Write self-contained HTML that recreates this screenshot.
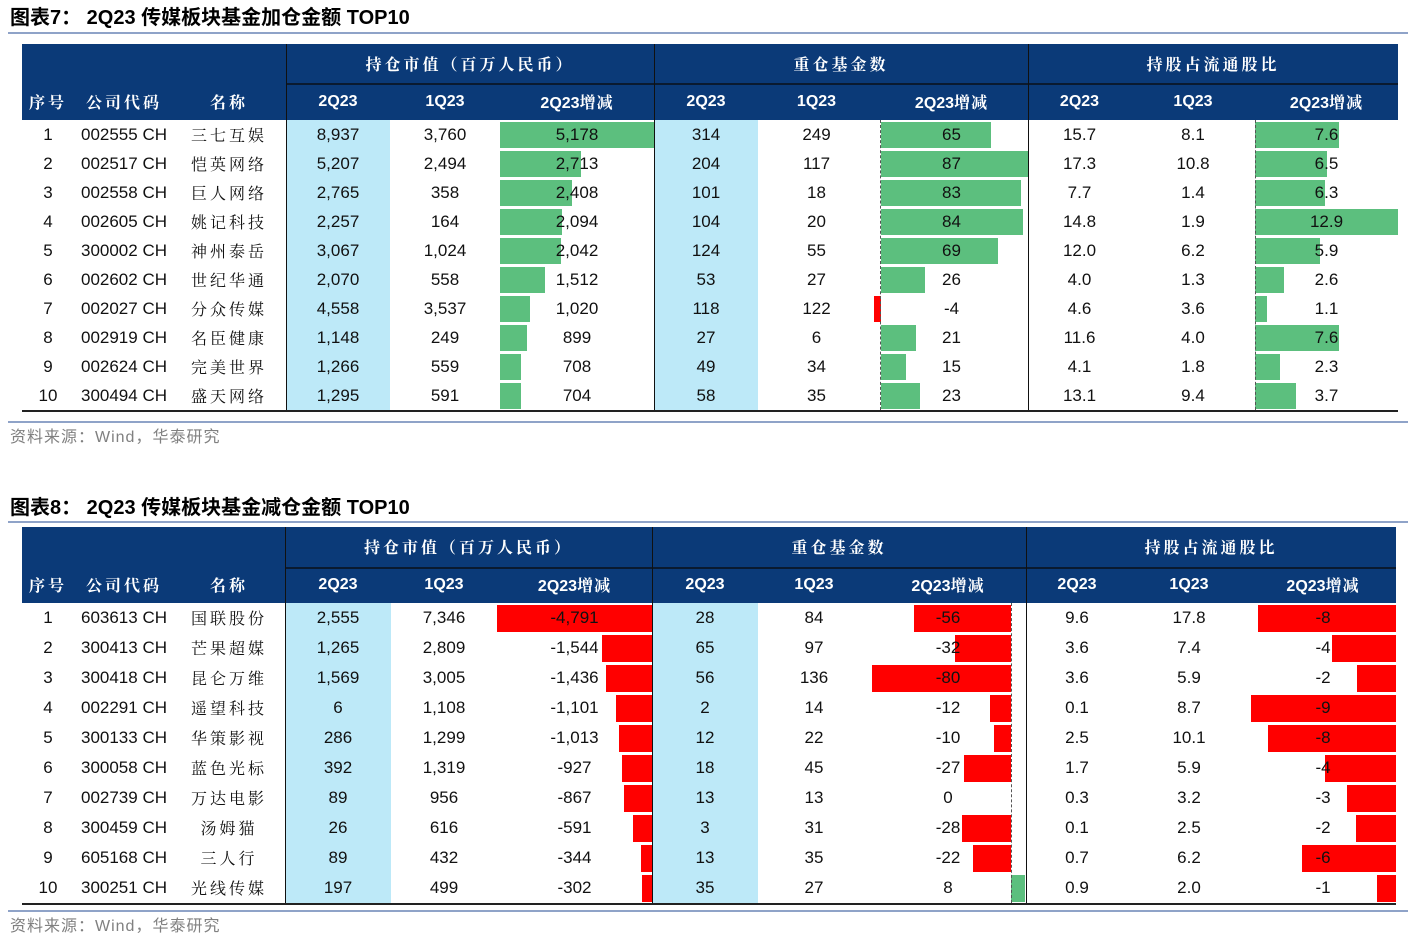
<!DOCTYPE html>
<html><head><meta charset="utf-8">
<style>
body{margin:0;width:1408px;height:941px;background:#fff;position:relative;overflow:hidden;font-family:"Liberation Sans","Noto Sans CJK SC",sans-serif;}
.a{position:absolute;}
.t{position:absolute;white-space:nowrap;transform:translateX(-50%);text-align:center;}
.title{font-size:20px;font-weight:bold;color:#000;left:10px;line-height:24px;}
.src{font-size:16px;color:#808080;left:10px;line-height:20px;letter-spacing:1px;}
.hl{position:absolute;background:#8fa3c8;height:2px;left:8px;width:1400px;}
.hdr{background:#0b3a78;}
.ht{color:#fff;font-size:16px;font-weight:bold;}
.cell{font-size:17px;color:#111;}
.cn{font-family:"Noto Serif CJK SC","Noto Sans CJK SC",serif;letter-spacing:3px;}
</style></head><body>
<div id="root"></div>
<script>
// ---------- Table 7 data ----------
const t1Codes=["002555 CH","002517 CH","002558 CH","002605 CH","300002 CH","002602 CH","002027 CH","002919 CH","002624 CH","300494 CH"];
const t1Names=["三七互娱","恺英网络","巨人网络","姚记科技","神州泰岳","世纪华通","分众传媒","名臣健康","完美世界","盛天网络"];
const t1Mv2=[8937,5207,2765,2257,3067,2070,4558,1148,1266,1295];
const t1Mv1=[3760,2494,358,164,1024,558,3537,249,559,591];
const t1MvD=[5178,2713,2408,2094,2042,1512,1020,899,708,704];
const t1F2=[314,204,101,104,124,53,118,27,49,58];
const t1F1=[249,117,18,20,55,27,122,6,34,35];
const t1FD=[65,87,83,84,69,26,-4,21,15,23];
const t1S2=[15.7,17.3,7.7,14.8,12.0,4.0,4.6,11.6,4.1,13.1];
const t1S1=[8.1,10.8,1.4,1.9,6.2,1.3,3.6,4.0,1.8,9.4];
const t1SD=[7.6,6.5,6.3,12.9,5.9,2.6,1.1,7.6,2.3,3.7];
// ---------- Table 8 data ----------
const t2Codes=["603613 CH","300413 CH","300418 CH","002291 CH","300133 CH","300058 CH","002739 CH","300459 CH","605168 CH","300251 CH"];
const t2Names=["国联股份","芒果超媒","昆仑万维","遥望科技","华策影视","蓝色光标","万达电影","汤姆猫","三人行","光线传媒"];
const t2Mv2=[2555,1265,1569,6,286,392,89,26,89,197];
const t2Mv1=[7346,2809,3005,1108,1299,1319,956,616,432,499];
const t2MvD=[-4791,-1544,-1436,-1101,-1013,-927,-867,-591,-344,-302];
const t2F2=[28,65,56,2,12,18,13,3,13,35];
const t2F1=[84,97,136,14,22,45,13,31,35,27];
const t2FD=[-56,-32,-80,-12,-10,-27,0,-28,-22,8];
const t2S2=[9.6,3.6,3.6,0.1,2.5,1.7,0.3,0.1,0.7,0.9];
const t2S1=[17.8,7.4,5.9,8.7,10.1,5.9,3.2,2.5,6.2,2.0];
const t2SD=[-8.2,-3.8,-2.3,-8.6,-7.6,-4.2,-2.9,-2.4,-5.6,-1.1];

const root=document.getElementById('root');
function div(cls,style,txt){const d=document.createElement('div');d.className=cls;d.style.cssText=style;if(txt!==undefined)d.textContent=txt;root.appendChild(d);return d;}
const fmtInt=v=>v.toLocaleString('en-US');
const fmt1=v=>v.toFixed(1);
const fmt0=v=>Math.round(v).toString();

function build(T){
  const {top,h1,h2,rowH,x}=T;
  const hTop=top, r2=top+h1, bTop=top+h1+h2, bBot=bTop+rowH*10;
  let d=div('a hdr',`left:${x.L}px;top:${hTop}px;width:${x.R-x.L}px;height:${h1+h2}px`);
  
  
  div('a',`left:${x.g1}px;top:${r2}px;width:${x.R-x.g1}px;height:2px;background:#0a1a30`);
  [x.g1,x.g2,x.g3].forEach(gx=>div('a',`left:${gx}px;top:${hTop}px;width:1px;height:${bBot-hTop}px;background:#111;z-index:3`));
  const groups=[["持仓市值（百万人民币）",x.g1,x.g2],["重仓基金数",x.g2,x.g3],["持股占流通股比",x.g3,x.R]];
  groups.forEach((g,i)=>{const e=div('t ht cn',`left:${(g[1]+g[2])/2}px;top:${hTop}px;height:${h1}px;line-height:${h1}px`,g[0]);
    
    });
  const hs=`top:${r2}px;height:${h2}px;line-height:${h2}px`;
  [["序号",x.c0],["公司代码",x.c1],["名称",x.c2]].forEach(c=>{const e=div('t ht cn',`left:${c[1]}px;${hs}`,c[0]);
    
    });
  const cols=T.cols;
  cols.forEach(c=>{const e=div('t ht',`left:${(c.a+c.b)/2}px;${hs}`);
    const m=c.h.match(/^([0-9A-Z]+)(.*)$/);
    e.innerHTML=m[1]+(m[2]?'<span class="cn" style="letter-spacing:1px">'+m[2]+'</span>':'');
    
    });
  T.blue.forEach(b=>div('a',`left:${b[0]}px;top:${bTop}px;width:${b[1]-b[0]}px;height:${bBot-bTop}px;background:#bde9f8`));
  T.axes.forEach(ax=>div('a',`left:${ax}px;top:${bTop}px;width:0;height:${bBot-bTop}px;border-left:1px dashed #555;z-index:2`));
  for(let i=0;i<10;i++){
    const y=bTop+i*rowH;
    const rs=`top:${y}px;height:${rowH}px;line-height:${rowH}px`;
    div('t cell',`left:${x.c0}px;${rs}`,String(i+1));
    let e=div('t cell',`left:${x.c1}px;${rs}`,T.codes[i]);
    
    
    e=div('t cell cn',`left:${x.c2}px;${rs};font-size:16px`,T.names[i]);
    
    
    cols.forEach(c=>{
      const v=c.data[i];
      if(c.bar){
        const s=c.bar; const w=Math.abs(v)*s.scale;
        const left=v>=0?s.axis:s.axis-w;
        const b=div('a',`left:${left}px;top:${y+1.5}px;width:${w}px;height:${rowH-3}px;background:${v>=0?'#5cbf7e':'#ff0000'}`);
        
        
      }
      const t=div('t cell',`left:${(c.a+c.b)/2}px;${rs};z-index:4`,c.f(v));
      
      
    });
  }
  div('a',`left:${x.L}px;top:${bBot}px;width:${x.R-x.L}px;height:2px;background:#222`);
}

let e;
e=div('a title','top:6px','图表7：  2Q23 传媒板块基金加仓金额 TOP10');


div('hl','top:32px');
build({top:44,h1:39,h2:37,rowH:29,codes:t1Codes,names:t1Names,
  x:{L:22,R:1398,g1:286,g2:654,g3:1028,c0:48,c1:124,c2:229},
  blue:[[287,390],[655,758]],axes:[880,1255],
  cols:[
   {h:"2Q23",a:286,b:390,data:t1Mv2,f:fmtInt,key:'mv-2q23'},
   {h:"1Q23",a:390,b:500,data:t1Mv1,f:fmtInt,key:'mv-1q23'},
   {h:"2Q23增减",a:500,b:654,data:t1MvD,f:fmtInt,key:'mv-chg',bar:{axis:500,scale:154/5178}},
   {h:"2Q23",a:654,b:758,data:t1F2,f:String,key:'fund-2q23'},
   {h:"1Q23",a:758,b:875,data:t1F1,f:String,key:'fund-1q23'},
   {h:"2Q23增减",a:875,b:1028,data:t1FD,f:String,key:'fund-chg',bar:{axis:881,scale:147/87}},
   {h:"2Q23",a:1028,b:1131,data:t1S2,f:fmt1,key:'share-2q23'},
   {h:"1Q23",a:1131,b:1255,data:t1S1,f:fmt1,key:'share-1q23'},
   {h:"2Q23增减",a:1255,b:1398,data:t1SD,f:fmt1,key:'share-chg',bar:{axis:1255,scale:143/12.9}}
  ]});
div('hl','top:421px');
e=div('a src','top:428px','资料来源：Wind，华泰研究');



e=div('a title','top:496px','图表8：  2Q23 传媒板块基金减仓金额 TOP10');


div('hl','top:521px');
build({top:527,h1:40,h2:36,rowH:30,codes:t2Codes,names:t2Names,
  x:{L:22,R:1396,g1:285,g2:652,g3:1026,c0:48,c1:124,c2:229},
  blue:[[286,391],[653,758]],axes:[1011],
  cols:[
   {h:"2Q23",a:285,b:391,data:t2Mv2,f:fmtInt,key:'mv-2q23'},
   {h:"1Q23",a:391,b:497,data:t2Mv1,f:fmtInt,key:'mv-1q23'},
   {h:"2Q23增减",a:497,b:652,data:t2MvD,f:fmtInt,key:'mv-chg',bar:{axis:652,scale:155/4791}},
   {h:"2Q23",a:652,b:758,data:t2F2,f:String,key:'fund-2q23'},
   {h:"1Q23",a:758,b:870,data:t2F1,f:String,key:'fund-1q23'},
   {h:"2Q23增减",a:870,b:1026,data:t2FD,f:String,key:'fund-chg',bar:{axis:1011,scale:139/80}},
   {h:"2Q23",a:1026,b:1128,data:t2S2,f:fmt1,key:'share-2q23'},
   {h:"1Q23",a:1128,b:1250,data:t2S1,f:fmt1,key:'share-1q23'},
   {h:"2Q23增减",a:1250,b:1396,data:t2SD,f:fmt0,key:'share-chg',bar:{axis:1396,scale:145/8.6}}
  ]});
div('hl','top:910px');
e=div('a src','top:917px','资料来源：Wind，华泰研究');


</script>
</body></html>
